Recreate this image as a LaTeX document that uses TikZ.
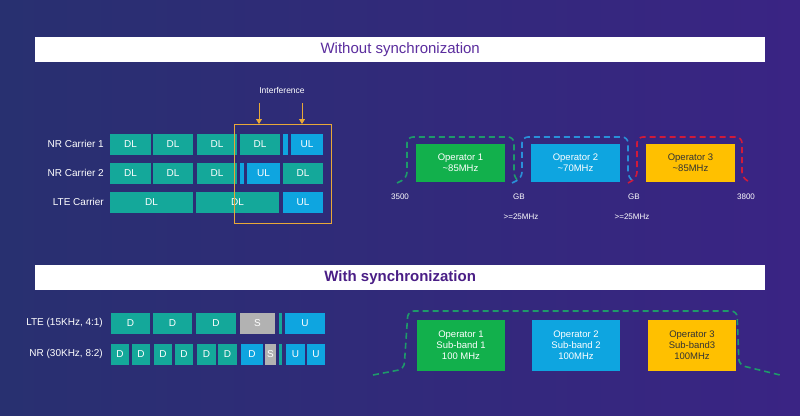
\documentclass[tikz,border=0pt]{standalone}
\usepackage{fontspec}
\setmainfont{Liberation Sans}
\usetikzlibrary{arrows.meta}
\begin{document}
\begin{tikzpicture}[x=1pt,y=-1pt,
  bk/.style={draw=none,minimum height=21pt,inner sep=0pt,text=white,font=\fontsize{10}{10}\selectfont},
  tl/.style={bk,fill=teal1},
  bl/.style={bk,fill=blue1},
  gy/.style={bk,fill=gray!60},
  lbl/.style={text=white,font=\fontsize{10}{10}\selectfont,anchor=east,inner sep=0pt},
  sm/.style={text=white,font=\fontsize{8}{9}\selectfont,inner sep=0pt},
  op/.style={draw=none,inner sep=0pt,align=center,font=\fontsize{9.5}{11}\selectfont},
  ban/.style={fill=white,minimum width=730pt,minimum height=25pt,inner sep=0pt,anchor=north west,font=\fontsize{15}{15}\selectfont},
  arr/.style={org,line width=0.8pt,-{Triangle[length=5pt,width=6pt]}},
  dsh/.style={dashed,line width=1.6pt,dash pattern=on 6pt off 4pt,rounded corners=6pt}]
\definecolor{teal1}{HTML}{14A89A}
\definecolor{blue1}{HTML}{0EA5E0}
\definecolor{grn}{HTML}{12B04C}
\definecolor{yel}{HTML}{FFC000}
\definecolor{bgL}{HTML}{283070}
\definecolor{bgR}{HTML}{3A2484}
\definecolor{ttl}{HTML}{5B2D9E}
\definecolor{ttl2}{HTML}{4A1E86}
\definecolor{org}{HTML}{E8A838}
\definecolor{dg}{HTML}{1E9A6A}
\definecolor{db}{HTML}{2A8FD8}
\definecolor{dr}{HTML}{D01A3A}
\useasboundingbox (0,0) rectangle (800,415);
\shade[left color=bgL,right color=bgR] (0,0) rectangle (800,415);
% banners
\node[ban,text=ttl] (t1) at (35,37) {Without synchronization};
\node[ban,text=ttl2,font=\fontsize{15}{15}\selectfont\bfseries] (t2) at (35,265) {With synchronization};
% top-left rows
\node[lbl] (l1) at (104,144) {NR Carrier 1};
\node[lbl] (l2) at (104,173) {NR Carrier 2};
\node[lbl] (l3) at (104,202) {LTE Carrier};
\node[tl,minimum width=41pt] (a1) at (130.5,144) {DL};
\node[tl,minimum width=40pt] (a2) at (173,144) {DL};
\node[tl,minimum width=40pt] (a3) at (217,144) {DL};
\node[tl,minimum width=40pt] (a4) at (260,144) {DL};
\node[bl,minimum width=5pt] (a5) at (285.5,144) {};
\node[bl,minimum width=32pt] (a6) at (307,144) {UL};
\node[tl,minimum width=41pt] (b1) at (130.5,173) {DL};
\node[tl,minimum width=40pt] (b2) at (173,173) {DL};
\node[tl,minimum width=40pt] (b3) at (217,173) {DL};
\node[bl,minimum width=4pt] (b4) at (242,173) {};
\node[bl,minimum width=33pt] (b5) at (263.5,173) {UL};
\node[tl,minimum width=40pt] (b6) at (303,173) {DL};
\node[tl,minimum width=83pt] (c1) at (151.5,202) {DL};
\node[tl,minimum width=83pt] (c2) at (237.5,202) {DL};
\node[bl,minimum width=40pt] (c3) at (303,202) {UL};
\node[draw=org,line width=0.8pt,minimum width=97pt,minimum height=99pt,inner sep=0pt] (ib) at (282.5,173.5) {};
\node[sm,font=\fontsize{8.5}{9}\selectfont] (it) at (282,90) {Interference};
\coordinate (i1) at (259,103); \coordinate (i2) at (302,103);
\draw[arr] (i1) -- (259,124);
\draw[arr] (i2) -- (302,124);
% top right
\node[op,fill=grn,text=white,minimum width=89pt,minimum height=38pt] (o1) at (460.5,163) {Operator 1\\\textasciitilde85MHz};
\node[op,fill=blue1,text=white,minimum width=89pt,minimum height=38pt] (o2) at (575.5,163) {Operator 2\\\textasciitilde70MHz};
\node[op,fill=yel,text=black!80,minimum width=89pt,minimum height=38pt] (o3) at (690.5,163) {Operator 3\\\textasciitilde85MHz};
\draw[dsh,dg] (397,183) -- (407,178) -- (407,137) -- (514,137) -- (514,178) -- (518,181);
\draw[dsh,db] (512,183) -- (522,178) -- (522,137) -- (628,137) -- (628,178) -- (633,181);
\draw[dsh,dr] (628,183) -- (637,178) -- (637,137) -- (742,137) -- (742,178) -- (750,182);
\node[sm] (f1) at (400,197) {3500};
\node[sm] (f2) at (519,197) {GB};
\node[sm] (f3) at (634,197) {GB};
\node[sm] (f4) at (746,197) {3800};
\node[sm] (g1) at (521,217) {>=25MHz};
\node[sm] (g2) at (632,217) {>=25MHz};
% bottom left
\node[lbl] (m1) at (103,323) {LTE (15KHz, 4:1)};
\node[lbl] (m2) at (103,354) {NR (30KHz, 8:2)};
\node[tl,minimum width=39pt] (d1) at (130.5,323) {D};
\node[tl,minimum width=39pt] (d2) at (172.5,323) {D};
\node[tl,minimum width=40pt] (d3) at (216,323) {D};
\node[gy,minimum width=35pt] (d4) at (257.5,323) {S};
\node[tl,minimum width=3pt] (d5) at (280.5,323) {};
\node[bl,minimum width=40pt] (d6) at (305,323) {U};
\foreach \n/\x in {e1/120,e2/141,e3/163,e4/184,e5/206.5,e6/227.5}
  \node[tl,minimum width=18.5pt] (\n) at (\x,354) {D};
\node[bl,minimum width=22pt] (e7) at (252,354) {D};
\node[gy,minimum width=11pt] (e8) at (270.5,354) {S};
\node[tl,minimum width=3pt] (e9) at (280.5,354) {};
\node[bl,minimum width=19pt] (e10) at (295.5,354) {U};
\node[bl,minimum width=18pt] (e11) at (316,354) {U};
% bottom right
\node[op,fill=grn,text=white,minimum width=88pt,minimum height=51pt] (p1) at (461,345.5) {Operator 1\\Sub-band 1\\100 MHz};
\node[op,fill=blue1,text=white,minimum width=88pt,minimum height=51pt] (p2) at (576,345.5) {Operator 2\\Sub-band 2\\100MHz};
\node[op,fill=yel,text=black!80,minimum width=88pt,minimum height=51pt] (p3) at (692,345.5) {Operator 3\\Sub-band3\\100MHz};
\draw[dsh,dg] (373,375) -- (404,369) -- (408,311) -- (737,311) -- (739,365) -- (780,375);
\end{tikzpicture}
\end{document}
